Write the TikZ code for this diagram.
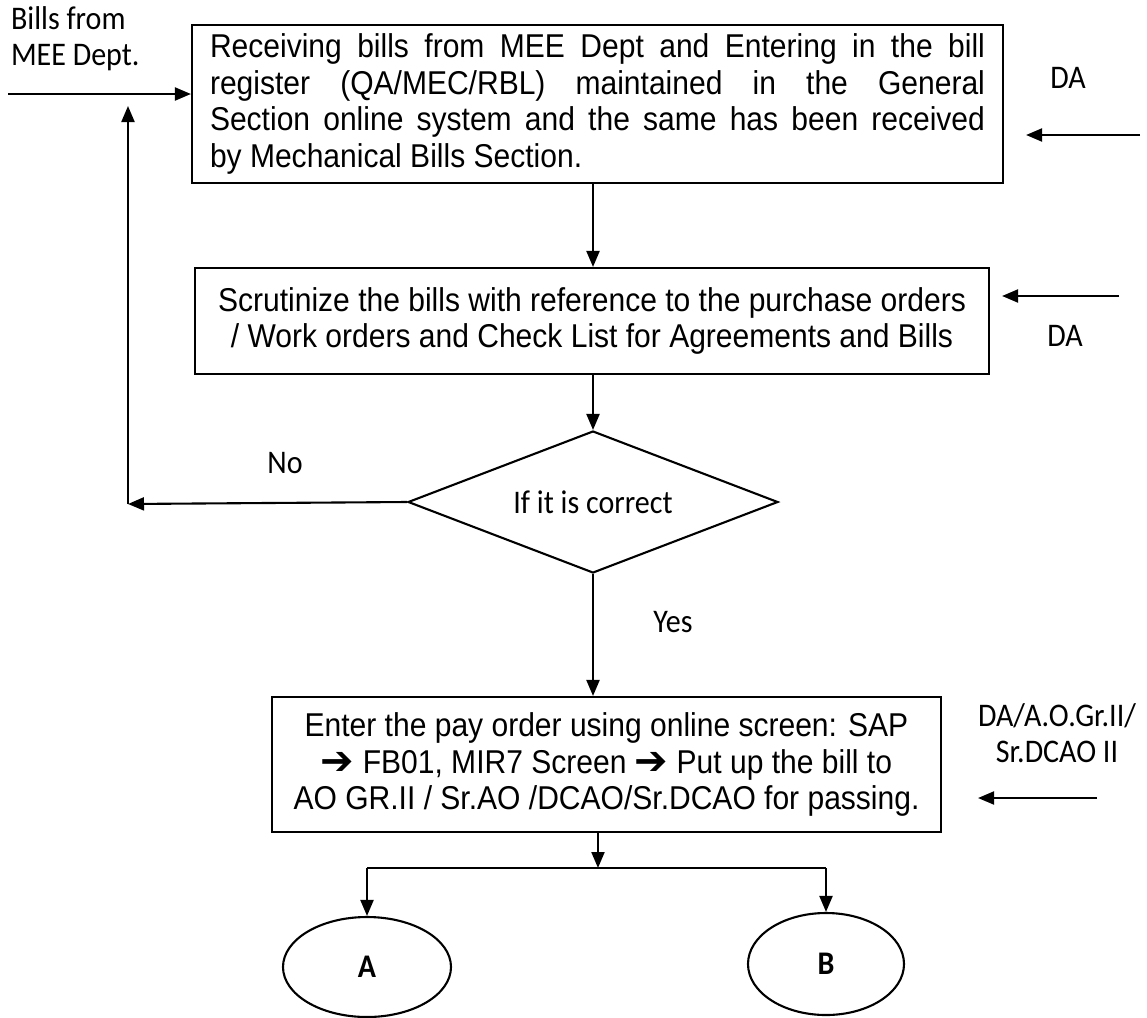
\documentclass[tikz,border=0pt]{standalone}
\usepackage{fontspec}
\setmainfont{Liberation Sans}[FakeStretch=0.91]
\newfontfamily\calfont{Carlito}[FakeStretch=0.91]
\newfontfamily\symfont{DejaVu Sans}
\usetikzlibrary{shapes.geometric,arrows.meta}
\newcommand{\harrow}{{\symfont\fontsize{40}{40}\selectfont\raisebox{-1pt}{➔}}}
\begin{document}
\begin{tikzpicture}[x=1pt,y=-1pt, line width=2.1pt,
  arr/.style={-{Triangle[length=16pt,width=13pt]}},
  box/.style={draw, inner sep=0pt, font=\fontsize{33}{36.5}\selectfont},
  lab/.style={font=\calfont\fontsize{33}{36}\selectfont, inner sep=0pt},
  ell/.style={draw, ellipse, inner sep=0pt, font=\calfont\bfseries\fontsize{33}{33}\selectfont},
]
\useasboundingbox (0,0) rectangle (1147,1017);

% boxes
\node[box, minimum width=811pt, minimum height=158pt, text width=775pt, align=justify] (b1) at (597.5,104)
 {Receiving bills from MEE Dept and Entering in the bill\linebreak register (QA/MEC/RBL) maintained in the General\linebreak Section online system and the same has been received\linebreak by Mechanical Bills Section.};
\node[box, minimum width=794pt, minimum height=106pt, align=center] (b2) at (592,321)
 {Scrutinize the bills with reference to the purchase orders\\ / Work orders and Check List for Agreements and Bills};
\node[draw, diamond, inner sep=0pt, minimum width=370pt, minimum height=142pt, aspect=2.6,
  font=\calfont\fontsize{33}{33}\selectfont] (dia) at (593,502) {If it is correct};
\node[box, minimum width=669pt, minimum height=135pt, align=center] (b3) at (606.5,764.5)
 {Enter the pay order using online screen: SAP\\ \harrow\ FB01, MIR7 Screen \harrow\ Put up the bill to\\ AO GR.II / Sr.AO /DCAO/Sr.DCAO for passing.};
\node[ell, minimum width=168pt, minimum height=100pt] (eA) at (367,967) {A};
\node[ell, minimum width=156pt, minimum height=102pt] (eB) at (826,964) {B};

% labels
\node[lab, anchor=west, align=left] (src) at (10,39) {Bills from\\MEE Dept.};
\node[lab] (da1) at (1068,78) {DA};
\node[lab] (da2) at (1065,336) {DA};
\node[lab, align=center] (da3) at (1057,733) {DA/A.O.Gr.II/\\Sr.DCAO II};
\node[lab] (no) at (285,463) {No};
\node[lab] (yes) at (673,622) {Yes};

% coordinates
\coordinate (in) at (8,94);
\coordinate (c1) at (128,504);
\coordinate (c2) at (128,106);
\coordinate (d1) at (1140,135);
\coordinate (d2) at (1119,296);
\coordinate (d3) at (1097,798);
\coordinate (j) at (598,868);

% connectors
\draw[arr] (in) -- (in -| b1.west);
\draw[arr] (b1.south -| dia.north) -- (b2.north -| dia.north);
\draw[arr] (b2.south -| dia.north) -- (dia.north);
\draw[arr] (dia.west) -- (c1);
\draw[arr] (c1) -- (c2);
\draw[arr] (dia.south) -- (dia.south |- b3.north);
\draw[arr] (j |- b3.south) -- (j);
\draw (eA.north |- j) -- (eB.north |- j);
\draw[arr] (eA.north |- j) -- (eA.north);
\draw[arr] (eB.north |- j) -- (eB.north);
\draw[arr, shorten >=22pt] (d1) -- (d1 -| b1.east);
\draw[arr, shorten >=12pt] (d2) -- (d2 -| b2.east);
\draw[arr, shorten >=36pt] (d3) -- (d3 -| b3.east);
\end{tikzpicture}
\end{document}
